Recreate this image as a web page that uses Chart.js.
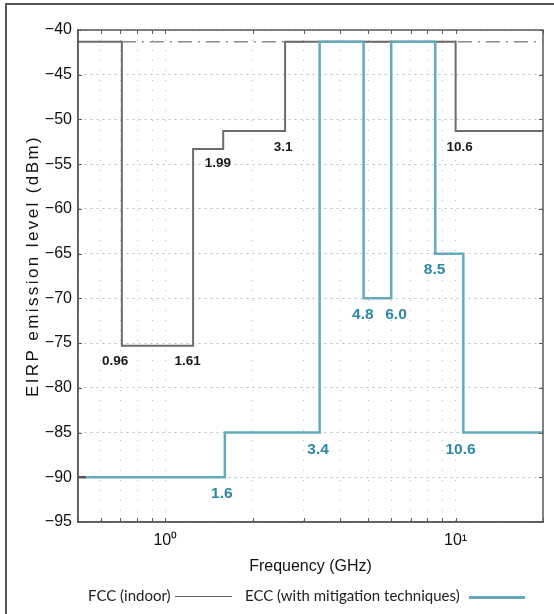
<!DOCTYPE html>
<html>
<head>
<meta charset="utf-8">
<script src="https://cdn.jsdelivr.net/npm/chart.js@4.4.1/dist/chart.umd.min.js"></script>
<style>
  html, body { margin: 0; padding: 0; background: #fff; }
  #wrap { position: relative; width: 554px; height: 614px; overflow: hidden; }
  #frame { position: absolute; left: 5px; top: 3px; width: 560px; height: 620px;
           border-top: 2px solid #555; border-left: 2px solid #555; }
  #legend { position: absolute; top: 586px; left: 0; width: 554px; height: 22px;
            font: 15px Lato, "Open Sans", sans-serif; color: #222; }
  #legend span { position: absolute; top: 0; white-space: nowrap; }
  #legend i { position: absolute; display: block; }
</style>
</head>
<body>
<div id="wrap">
  <canvas id="chart" width="554" height="614"></canvas>
  <div id="frame"></div>
  <div id="legend">
    <span style="left:88px">FCC (indoor)</span>
    <i style="left:175px;width:57px;top:10px;border-top:1.5px solid #666"></i>
    <span style="left:245px">ECC (with mitigation techniques)</span>
    <i style="left:469px;width:56px;top:10px;border-top:3px solid #62a7ba"></i>
  </div>
</div>
<script>
// frequencies in GHz, levels in dBm
const fccFreq = [0.5, 0.708, 1.246, 1.582, 2.585, 10.0, 20];
const fccLevel = [-41.3, -75.3, -53.3, -51.3, -41.3, -51.3, -51.3];

const eccFreq = [0.534, 1.603, 3.40, 4.82, 6.0, 8.51, 10.63, 20];
const eccLevel = [-90, -85, -41.3, -70, -41.3, -65, -85, -85];

const leadFreq = [0.5, 0.534];
const leadLevel = [-90, -90];

const limitFreq = [0.708, 20];
const limitLevel = [-41.3, -41.3];

const fccLabels = ["0.96", "1.61", "1.99", "3.1", "10.6"];
const fccLabelX = [0.671, 1.194, 1.516, 2.544, 10.32];
const fccLabelY = [-77.0, -77.0, -54.9, -53.1, -53.1];

const eccLabels = ["1.6", "3.4", "4.8", "6.0", "8.5", "10.6"];
const eccLabelX = [1.565, 3.36, 4.79, 6.23, 8.46, 10.40];
const eccLabelY = [-91.8, -86.9, -71.8, -71.8, -66.8, -86.9];

const xTicks = [0.5, 0.6, 0.7, 0.8, 0.9, 1, 2, 3, 4, 5, 6, 7, 8, 9, 10, 20];
const xTickText = { 1: "10\u2070", 10: "10\u00b9" };

const sans = "'Liberation Sans', Arial, sans-serif";
const gridColor = "#a9c2cb";
const axisColor = "#5a5a5a";

function pts(xs, ys) {
    return xs.map((x, i) => ({ x: x, y: ys[i] }));
}

// frame on top/right, inner tick marks, y title and value labels
const decorations = {
    id: "decorations",
    afterDraw(chart) {
        const { ctx, chartArea: a, scales } = chart;
        ctx.save();
        ctx.strokeStyle = axisColor;
        ctx.lineWidth = 1.5;
        ctx.strokeRect(a.left, a.top, a.right - a.left, a.bottom - a.top);
        ctx.lineWidth = 1;
        for (const v of xTicks) {
            const px = Math.round(scales.x.getPixelForValue(v)) + 0.5;
            ctx.beginPath();
            ctx.moveTo(px, a.bottom); ctx.lineTo(px, a.bottom - 4);
            ctx.moveTo(px, a.top); ctx.lineTo(px, a.top + 4);
            ctx.stroke();
        }
        for (let v = -95; v <= -40; v += 5) {
            const py = Math.round(scales.y.getPixelForValue(v)) + 0.5;
            ctx.beginPath();
            ctx.moveTo(a.left, py); ctx.lineTo(a.left + 4, py);
            ctx.moveTo(a.right, py); ctx.lineTo(a.right - 4, py);
            ctx.stroke();
        }

        // y axis title, letter-spaced like the original
        ctx.save();
        ctx.translate(33, (a.top + a.bottom) / 2 - 10);
        ctx.rotate(-Math.PI / 2);
        ctx.font = "17px " + sans;
        ctx.letterSpacing = "2.4px";
        ctx.fillStyle = "#111";
        ctx.textAlign = "center";
        ctx.textBaseline = "middle";
        ctx.fillText("EIRP emission level (dBm)", 0, 0);
        ctx.restore();

        ctx.textAlign = "center";
        ctx.textBaseline = "middle";
        ctx.fillStyle = "#1a1a1a";
        ctx.font = "bold 13.5px " + sans;
        fccLabels.forEach((t, i) => {
            ctx.fillText(t, scales.x.getPixelForValue(fccLabelX[i]), scales.y.getPixelForValue(fccLabelY[i]));
        });
        ctx.fillStyle = "#2c88a4";
        ctx.font = "bold 15.5px " + sans;
        eccLabels.forEach((t, i) => {
            ctx.fillText(t, scales.x.getPixelForValue(eccLabelX[i]), scales.y.getPixelForValue(eccLabelY[i]));
        });
        ctx.restore();
    }
};

new Chart(document.getElementById("chart"), {
    type: "line",
    data: {
        datasets: [
            {
                label: "ECC (with mitigation techniques)",
                data: pts(eccFreq, eccLevel),
                stepped: "before",
                borderColor: "#64aabd",
                borderWidth: 2.5,
                pointRadius: 0,
                fill: false,
            },
            {
                label: "lead",
                data: pts(leadFreq, leadLevel),
                borderColor: "#555",
                borderWidth: 2.5,
                pointRadius: 0,
            },
            {
                label: "FCC (indoor)",
                data: pts(fccFreq, fccLevel),
                stepped: "before",
                borderColor: "#6c6c6c",
                borderWidth: 2,
                pointRadius: 0,
                fill: false,
            },
            {
                label: "limit",
                data: pts(limitFreq, limitLevel),
                borderColor: "#8a8a8a",
                borderWidth: 1.5,
                borderDash: [14, 6, 2, 6],
                pointRadius: 0,
            },
        ],
    },
    options: {
        responsive: false,
        animation: false,
        layout: { padding: { top: 30, right: 11, left: 0, bottom: 0 } },
        plugins: { legend: { display: false }, tooltip: { enabled: false } },
        scales: {
            x: {
                type: "logarithmic",
                min: 0.5,
                max: 20,
                afterBuildTicks: (scale) => {
                    scale.ticks = xTicks.map((v) => ({ value: v }));
                },
                afterFit: (scale) => { scale.height = 92; },
                ticks: {
                    autoSkip: false,
                    maxRotation: 0,
                    padding: 9,
                    color: "#111",
                    font: { family: sans, size: 16 },
                    callback: (v) => xTickText[v] || "",
                },
                grid: { color: gridColor, lineWidth: 1, drawTicks: false },
                border: { display: true, color: axisColor, width: 1.5, dash: [1, 9] },
                title: {
                    display: true,
                    text: "Frequency (GHz)",
                    color: "#111",
                    font: { family: sans, size: 16 },
                    padding: { top: 0, bottom: 38 },
                },
            },
            y: {
                min: -95,
                max: -40,
                afterFit: (scale) => { scale.width = 78; },
                ticks: {
                    stepSize: 5,
                    padding: 6,
                    color: "#111",
                    font: { family: sans, size: 16 },
                    callback: (v) => String(v).replace("-", "\u2212"),
                },
                grid: { color: gridColor, lineWidth: 1, drawTicks: false },
                border: { display: true, color: axisColor, width: 1.5, dash: [2, 4] },
            },
        },
    },
    plugins: [decorations],
});
</script>
</body>
</html>
